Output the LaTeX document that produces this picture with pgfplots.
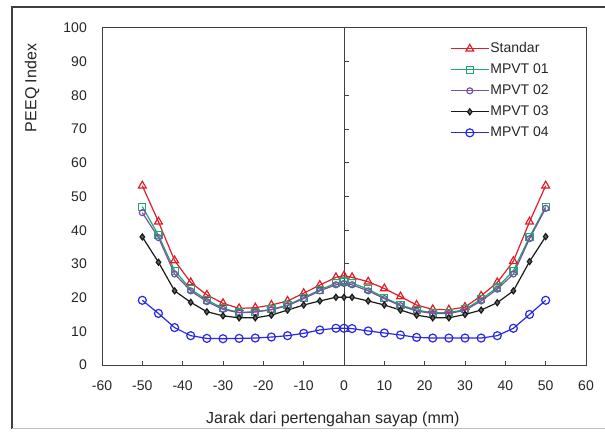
\documentclass[border=0pt]{standalone}
\usepackage{pgfplots}
\pgfplotsset{compat=1.18}
\usepackage{pgfplotstable}
\usepackage{fontspec}
\setmainfont{Liberation Sans}
\definecolor{cRed}{RGB}{220,30,45}
\definecolor{cGreen}{RGB}{30,170,110}
\definecolor{cPurple}{RGB}{120,80,165}
\definecolor{cBlue}{RGB}{40,40,230}
\pgfplotstableread{
x std m01 m02 m03 m04
-50 53.2 47.0 45.2 38.0 19.2
-46 42.5 38.5 37.8 30.5 15.3
-42 31.0 28.0 27.0 22.0 11.1
-38 24.5 22.5 22.0 18.6 8.7
-34 20.8 19.3 18.8 15.8 7.9
-30 18.3 16.8 16.5 14.6 7.8
-26 16.8 15.6 15.5 14.0 7.9
-22 17.0 15.8 15.7 14.0 8.0
-18 17.8 16.5 16.4 14.8 8.3
-14 19.0 17.8 17.6 16.3 8.7
-10 21.3 20.0 19.7 17.8 9.4
-6 23.7 22.3 22.0 19.0 10.4
-2 26.0 24.3 23.8 20.1 10.9
0 26.5 24.8 24.2 20.1 10.9
2 26.0 24.3 23.8 20.1 10.8
6 24.7 22.5 22.0 19.0 10.1
10 22.7 20.0 19.7 17.8 9.5
14 20.3 17.8 17.6 16.3 8.9
18 17.8 16.3 16.0 14.8 8.2
22 16.5 15.5 15.3 14.0 8.0
26 16.4 15.5 15.3 14.0 8.0
30 17.2 16.5 16.2 15.0 8.0
34 20.5 19.5 19.0 16.3 8.0
38 24.5 23.0 22.5 18.5 8.7
42 30.8 28.0 27.0 22.0 10.9
46 42.5 38.0 37.5 30.7 15.0
50 53.2 47.0 46.5 38.1 19.2
}\datatable
\begin{document}
\begin{tikzpicture}
\useasboundingbox (0pt,0pt) rectangle (605pt,437pt);
\draw[black!75, line width=1.5pt] (12pt,8pt) -- (12pt,430pt) -- (605pt,430pt);
\draw[black!25, line width=1pt] (12pt,8.5pt) -- (605pt,8.5pt);
\begin{axis}[
 at={(102pt,72pt)}, anchor=south west, scale only axis, width=484pt, height=337pt,
 xmin=-60, xmax=60, ymin=0, ymax=100,
 xtick={-60,-50,...,60}, ytick={0,10,...,100},
 xtick pos=bottom, tick align=inside,
 every y tick/.append style={draw=none},
 major tick length=4pt,
 axis line style={black!75, line width=1pt},
 every tick/.append style={black!75, line width=1pt},
 tick label style={font=\fontsize{14}{16}\selectfont, text=black!85},
 /pgf/number format/assume math mode=true,
 xticklabel style={inner sep=0pt, anchor=north, yshift=-16pt},
 yticklabel style={inner sep=0pt, anchor=east, xshift=-15pt},
 xlabel={Jarak dari pertengahan sayap (mm)},
 ylabel={PEEQ Index},
 label style={font=\fontsize{16}{18}\selectfont, text=black!85},
 xlabel style={at={(axis description cs:0.477,-0.160)}, anchor=center, inner sep=0pt},
 ylabel style={at={(axis description cs:-0.1446,0.822)}, anchor=center, inner sep=0pt},
 legend cell align=left,
 legend style={at={(rel axis cs:0.719,0.961)}, anchor=north west, draw=none, fill=none,
   inner sep=0pt, font=\fontsize{14}{16}\selectfont, text=black!85, row sep=6pt,
   nodes={inner sep=1pt, text height=10pt, text depth=3pt}},
 legend image code/.code={\draw[mark repeat=2, mark phase=2, #1] plot coordinates {(0pt,0pt) (19pt,0pt) (38pt,0pt)};},
 every axis plot/.append style={line width=1.2pt},
]
\draw[black!75, line width=1pt] (axis cs:0,0) -- (axis cs:0,100);
\pgfplotsinvokeforeach{10,20,30,40,50,60,70,80,90}{\draw[black!75, line width=1pt] (axis cs:0,#1) -- ++(5pt,0pt);}
\addplot[cRed, mark=triangle, mark size=4.5pt, mark options={fill=white, solid}] table[x=x, y=std] {\datatable};
\addlegendentry{Standar}
\addplot[cGreen, mark=square, mark size=3.5pt, mark options={fill=white, solid}] table[x=x, y=m01] {\datatable};
\addlegendentry{MPVT 01}
\addplot[cPurple, mark=o, mark size=3pt, mark options={fill=white, solid}] table[x=x, y=m02] {\datatable};
\addlegendentry{MPVT 02}
\addplot[black!90, mark=diamond*, mark size=3pt, mark options={fill=black!60, solid}] table[x=x, y=m03] {\datatable};
\addlegendentry{MPVT 03}
\addplot[cBlue, mark=o, mark size=4pt, mark options={fill=white, solid}] table[x=x, y=m04] {\datatable};
\addlegendentry{MPVT 04}
\end{axis}
\end{tikzpicture}
\end{document}
